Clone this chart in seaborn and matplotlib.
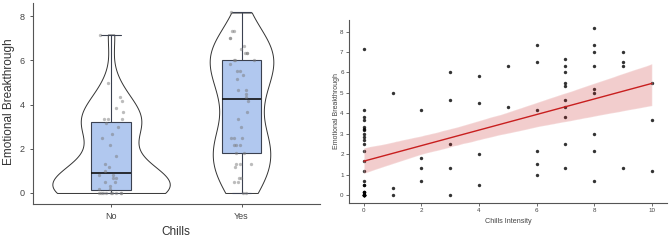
"""violin/box of emotional breakthrough by chills + regression on chills intensity"""
import matplotlib as mpl
mpl.use('Agg')
import matplotlib.pyplot as plt

import numpy as np
import pandas as pd
import seaborn as sns

# left panel: emotional breakthrough split by chills (No / Yes)
no_chills = [0, 0, 0, 0, 0, 0, 0, 0, 0,
             0.17, 0.17, 0.33, 0.5, 0.5, 0.67, 0.67, 0.83, 0.83, 1.0,
             1.17, 1.33, 1.67, 2.17, 2.5, 2.67, 3.0, 3.17, 3.33, 3.33,
             3.33, 3.67, 3.83, 4.17, 4.33, 5.0, 7.17]
yes_chills = [0, 0, 0.5, 0.5, 0.67, 0.67, 1.17, 1.33, 1.33, 1.33, 1.83,
              1.83, 2.17, 2.17, 2.17, 2.5, 2.5, 2.5, 3.0, 3.33, 3.67, 4.17,
              4.33, 4.5, 4.67, 4.67, 5.17, 5.33, 5.5, 5.5, 5.83, 6.0, 6.0,
              6.0, 6.33, 6.33, 6.33, 6.5, 6.67, 7.0, 7.0, 7.33, 7.33, 8.17]
chill_groups = ['No', 'Yes']

# right panel: emotional breakthrough vs chills intensity
# (several points overlap at intensity 0, mostly near zero)
intensity = ([0] * 29 + [1] * 3 + [2] * 4 + [3] * 5 + [4] * 4 + [5] * 2 +
             [6] * 6 + [7] * 10 + [8] * 9 + [9] * 4 + [10] * 3)
breakthrough = [7.17, 4.17, 3.83, 3.67, 3.33, 3.25, 3.17, 3.0, 2.83, 2.67,
                2.5, 2.17, 1.67, 1.17, 0.67, 0.5, 0.5, 0.17, 0.17, 0.17,
                0.0, 0.0, 0.0, 0.0, 0.0, 0.0, 0.0, 0.0, 0.0,               # 0
                5.0, 0.33, 0.0,                                            # 1
                4.17, 1.83, 1.33, 0.67,                                    # 2
                6.0, 4.67, 2.5, 1.33, 0.0,                                 # 3
                5.83, 4.5, 2.0, 0.5,                                       # 4
                6.33, 4.33,                                                # 5
                7.33, 6.5, 4.17, 2.17, 1.5, 1.0,                           # 6
                6.67, 6.33, 6.0, 5.5, 5.33, 4.67, 4.33, 3.83, 2.5, 1.33,   # 7
                8.17, 7.33, 7.0, 6.33, 5.17, 5.0, 3.0, 2.17, 0.67,         # 8
                7.0, 6.5, 6.33, 1.33,                                      # 9
                5.5, 3.67, 1.17]                                           # 10

df_left = pd.DataFrame({'Chills': ['No'] * len(no_chills) + ['Yes'] * len(yes_chills),
                        'EB': no_chills + yes_chills})
df_right = pd.DataFrame({'intensity': intensity, 'EB': breakthrough})

sns.set_style('ticks')
plt.rcParams.update({'font.family': ['Liberation Sans', 'DejaVu Sans'],
                     'axes.edgecolor': '#555555',
                     'xtick.color': '#555555',
                     'ytick.color': '#555555',
                     'xtick.labelcolor': '#444444',
                     'ytick.labelcolor': '#444444'})

fig = plt.figure(figsize=(6.69, 2.4), dpi=100)
ax1 = fig.add_axes([0.049, 0.15, 0.429, 0.8375])
ax2 = fig.add_axes([0.522, 0.155, 0.4746, 0.762])

# ---- left: violin + box + jittered points
box_blue = '#b1c8ef'
sns.violinplot(data=df_left, x='Chills', y='EB', order=chill_groups, ax=ax1,
               inner=None, cut=0, width=0.9, color='white', linecolor='#333333',
               linewidth=0.7, bw_adjust=0.9)
sns.boxplot(data=df_left, x='Chills', y='EB', order=chill_groups, ax=ax1,
            width=0.3, color=box_blue, linecolor='#3b4150', linewidth=0.8,
            showfliers=False, whis=1.5,
            medianprops={'color': '#111111', 'linewidth': 1.2},
            boxprops={'facecolor': box_blue, 'alpha': 1})
np.random.seed(3)
sns.stripplot(data=df_left, x='Chills', y='EB', order=chill_groups, ax=ax1,
              color='#7a7a7a', alpha=0.5, size=2.4, jitter=0.1, zorder=5)
ax1.set_xlim(-0.6, 1.6)
ax1.set_ylim(-0.5, 8.6)
ax1.set_yticks([0, 2, 4, 6, 8])
ax1.set_xlabel('Chills', fontsize=8.5, color='#333333')
ax1.set_ylabel('Emotional Breakthrough', fontsize=8.5, color='#333333')
ax1.xaxis.set_label_coords(0.5, -0.11)
ax1.yaxis.set_label_coords(-0.063, 0.507)
ax1.tick_params(labelsize=6.5, length=2.5, width=0.7)
sns.despine(ax=ax1)

# ---- right: regression with CI band
sns.regplot(data=df_right, x='intensity', y='EB', ax=ax2, ci=95,
            scatter_kws={'color': 'black', 's': 6, 'linewidths': 0},
            line_kws={'color': '#c81e1e', 'linewidth': 1.0},
            color='#ff3344')
if len(ax2.collections) > 1:
    ax2.collections[1].set_alpha(0.22)
ax2.set_xlim(-0.51, 10.52)
ax2.set_ylim(-0.38, 8.57)
ax2.set_xticks([0, 2, 4, 6, 8, 10])
ax2.set_yticks(range(0, 9))
ax2.set_xlabel('Chills Intensity', fontsize=5.2, color='#444444')
ax2.set_ylabel('Emotional Breakthrough', fontsize=5, color='#444444')
ax2.xaxis.set_label_coords(0.5, -0.084)
ax2.yaxis.set_label_coords(-0.03, 0.5)
ax2.tick_params(labelsize=4.5, length=2, width=0.6, pad=2)
sns.despine(ax=ax2)

fig.savefig('out.png', dpi=100)
